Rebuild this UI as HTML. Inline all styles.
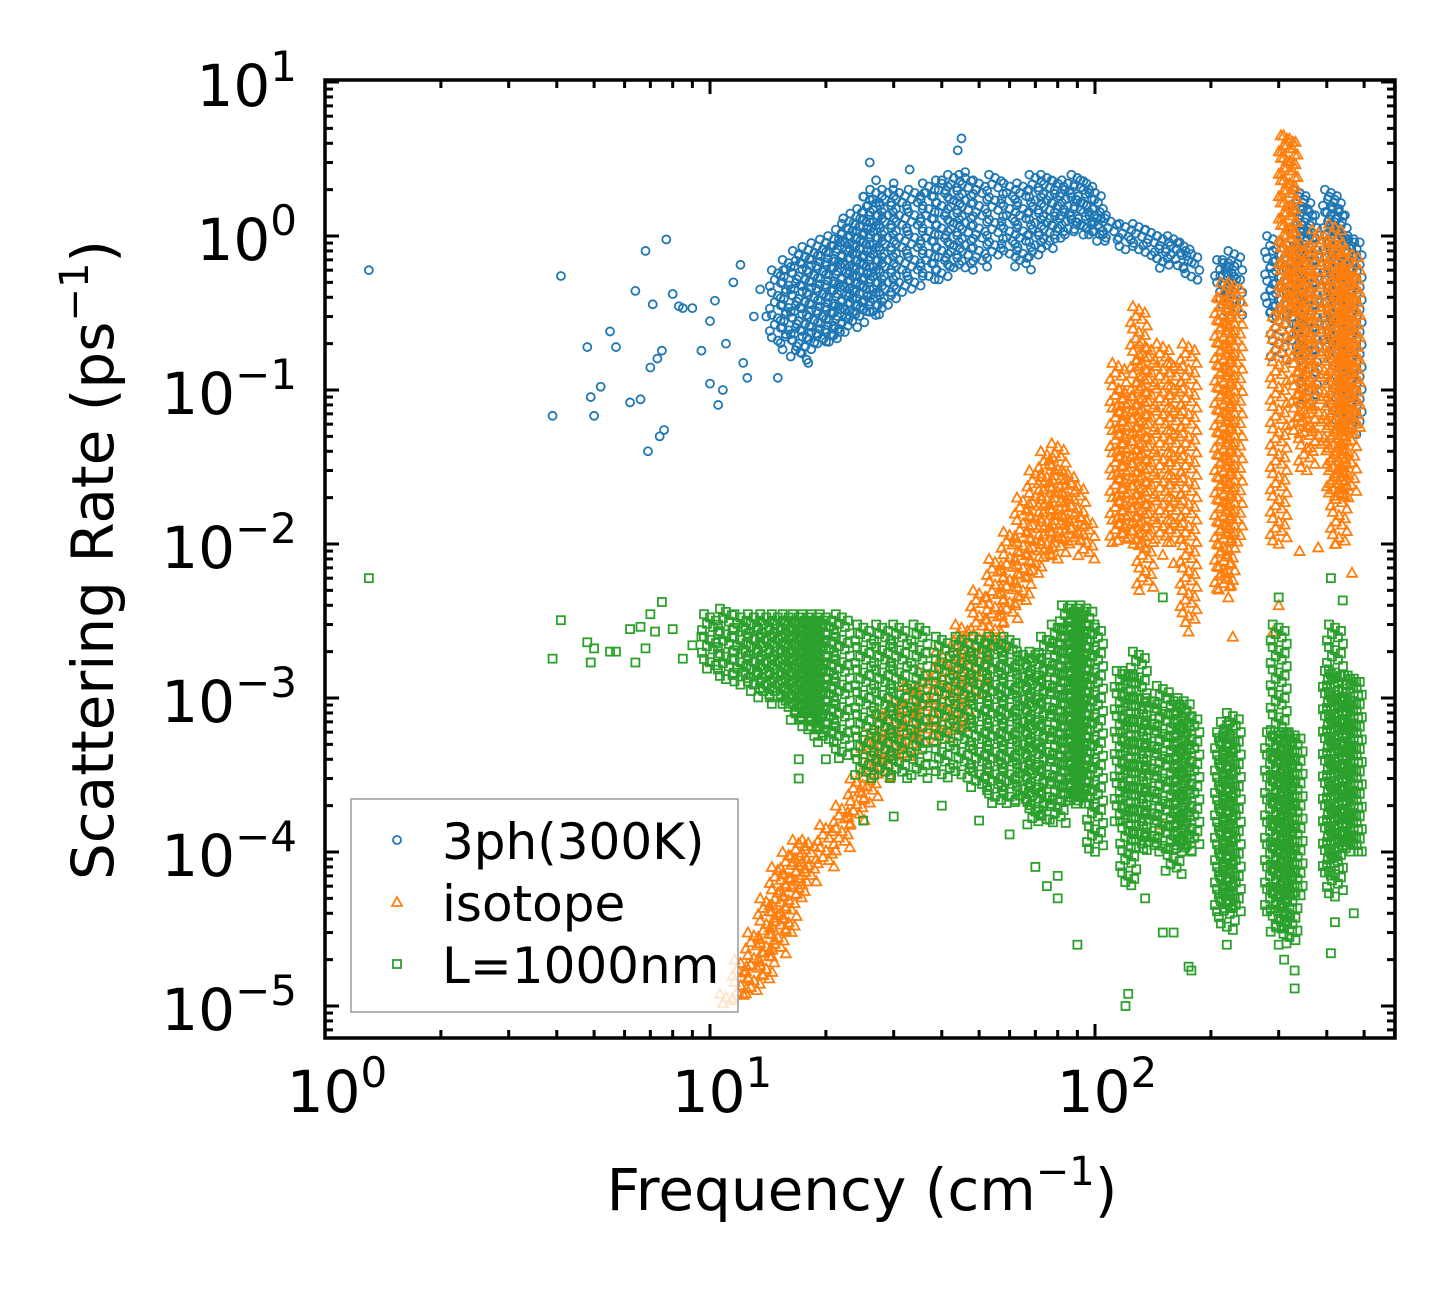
<!DOCTYPE html>
<html><head><meta charset="utf-8"><style>
html,body{margin:0;padding:0;background:#fff;}
svg text{font-family:"DejaVu Sans","Liberation Sans",sans-serif;fill:#000;}
</style></head><body>
<svg id="chart" width="1455" height="1287" viewBox="0 0 1455 1287" xmlns="http://www.w3.org/2000/svg">
<rect x="0" y="0" width="1455" height="1287" fill="#fff"/>
<g id="marks"></g>
<g id="axes"></g>
</svg>
<script>
// ---- data ----
const xTicks = [1, 10, 100];
const yTicks = [1, 0, -1, -2, -3, -4, -5];
const blueScatter = [[1.3,0.6],[3.9,0.068],[4.1,0.55],[4.8,0.19],[4.9,0.09],[5.0,0.068],[5.2,0.105],[5.5,0.24],[5.7,0.19],[6.2,0.083],[6.4,0.44],[6.6,0.087],[6.8,0.8],[6.9,0.04],[7.0,0.14],[7.1,0.36],[7.3,0.16],[7.4,0.05],[7.6,0.055],[7.5,0.18],[7.7,0.95],[8.0,0.42],[8.3,0.35],[8.5,0.34],[9.0,0.34],[9.5,0.18],[10,0.11],[10,0.28],[10.3,0.38],[10.5,0.08],[10.8,0.1],[11,0.2],[11.5,0.5],[12,0.65],[12.2,0.15],[12.5,0.12],[13,0.3],[13.5,0.45],[14,0.3],[15,0.12],[15.5,0.6],[17,0.75],[18,0.15],[19,0.2],[20,0.9],[22,1.2],[25,1.8],[26,3.0],[27,2.3],[30,2.2],[33,2.7],[36,1.9],[40,2.3],[44,3.6],[45,4.3],[46,2.6],[49,2.0]];
const blueBands = [[15,0.2,0.6],[16,0.18,0.7],[17,0.15,0.8],[18,0.17,0.85],[19,0.2,0.9],[20,0.2,0.95],[21,0.2,1.0],[22,0.22,1.1],[23,0.25,1.3],[24,0.27,1.4],[25,0.3,1.5],[26,0.3,1.8],[27,0.3,2.0],[29,0.35,2.0],[31,0.4,2.0],[34,0.45,2.0],[37,0.5,2.2],[40,0.5,2.3],[43,0.6,2.5],[46,0.6,2.5],[50,0.6,2.3],[55,0.7,2.5],[60,0.7,2.2],[65,0.6,2.2],[70,0.7,2.5],[75,0.8,2.5],[80,0.9,2.3],[85,1.0,2.3],[90,1.1,2.5],[95,1.0,2.3],[100,1.0,2.0],[103,0.9,1.5],[110,0.9,1.3],[120,0.8,1.2],[130,0.8,1.2],[140,0.7,1.1],[150,0.6,1.0],[160,0.7,1.0],[170,0.6,0.9],[178,0.5,0.8],[215,0.4,0.7],[222,0.35,0.7],[230,0.3,0.8],[290,0.3,1.0],[300,0.15,0.8],[330,0.3,1.1],[340,0.2,2.0],[350,0.15,1.8],[360,0.08,1.5],[410,0.2,2.0],[420,0.15,1.8],[430,0.06,1.5],[455,0.05,1.0],[470,0.06,1.0]];
const orangeScatter = [[135,0.0095],[150,0.0085],[160,0.0075],[175,0.0027],[218,0.0065],[222,0.0045],[228,0.0025],[300,0.004],[340,0.009],[380,0.0095],[420,0.01],[465,0.0065],[290,0.0027],[150,0.00015]];
const orangeBands = [[11,1e-5,1.2e-5],[12,1.1e-5,2e-5],[13,1.2e-5,3e-5],[14,1.5e-5,5e-5],[15,2e-5,8e-5],[16,3e-5,1e-4],[17,5e-5,1.2e-4],[18,6e-5,1.2e-4],[20,8e-5,1.5e-4],[22,1e-4,2e-4],[24,1.5e-4,3e-4],[26,2e-4,6e-4],[28,3e-4,8e-4],[30,4e-4,1e-3],[33,4e-4,1.2e-3],[36,5e-4,1.5e-3],[40,5e-4,2e-3],[45,6e-4,3e-3],[50,1e-3,5e-3],[55,2e-3,8e-3],[60,3e-3,1.2e-2],[65,4e-3,2e-2],[70,6e-3,3e-2],[75,8e-3,4e-2],[80,8e-3,4.5e-2],[85,1e-2,3e-2],[90,1e-2,2.5e-2],[95,8e-3,1.5e-2],[115,1e-2,0.15],[120,1e-2,0.1],[130,1e-2,0.35],[135,5e-3,0.2],[150,1e-2,0.2],[160,1e-2,0.15],[175,3e-3,0.2],[215,5e-3,0.4],[220,5e-3,0.5],[230,1e-2,0.5],[300,0.01,0.3],[315,0.3,4.5],[320,0.3,4.5],[340,0.05,0.8],[355,0.03,0.9],[380,0.04,1.1],[420,0.02,1.2],[430,0.01,0.9],[455,0.02,0.6],[465,0.05,0.8]];
const greenScatter = [[1.3,0.006],[3.9,0.0018],[4.1,0.0032],[4.8,0.0023],[4.9,0.0017],[5.0,0.0021],[5.5,0.002],[5.7,0.002],[6.2,0.0028],[6.4,0.0017],[6.6,0.0029],[6.8,0.0021],[7.0,0.0035],[7.2,0.0027],[7.5,0.0042],[8.0,0.0028],[8.5,0.0018],[9.0,0.0022],[9.5,0.0025],[17,0.0003],[17,0.0004],[20,0.0004],[25,0.00016],[30,0.00017],[40,0.0002],[50,0.00016],[60,0.00013],[70,0.00008],[75,0.00006],[80,0.00005],[90,0.000025],[80,0.00007],[120,0.00001],[122,0.000012],[135,0.00005],[150,0.00003],[160,0.00003],[175,0.000018],[178,0.000017],[150,0.0045],[220,0.000025],[225,0.0002],[300,0.000025],[310,0.00002],[330,0.000013],[330,0.000017],[410,0.000022],[420,0.000035],[470,0.00004],[300,0.0045],[410,0.006],[440,0.0043]];
const greenBands = [[10,1.5e-3,3.5e-3],[11,1.3e-3,3.8e-3],[12,1.2e-3,3.5e-3],[13,1.1e-3,3.5e-3],[14,1e-3,3.5e-3],[15,9e-4,3.5e-3],[16,8e-4,3.5e-3],[17,7e-4,3.5e-3],[18,6e-4,3.5e-3],[19,5.5e-4,3.5e-3],[20,5e-4,3.5e-3],[22,4e-4,3.5e-3],[25,3e-4,3e-3],[28,3e-4,3e-3],[31,3e-4,3e-3],[35,3e-4,3e-3],[40,3e-4,2.5e-3],[45,3e-4,2.5e-3],[50,2.5e-4,2.5e-3],[55,2e-4,2.5e-3],[60,2e-4,2.5e-3],[65,2e-4,2e-3],[70,1.5e-4,2e-3],[75,1.5e-4,2.5e-3],[80,1.5e-4,3e-3],[85,2e-4,4e-3],[90,2e-4,4e-3],[95,2e-4,4e-3],[100,1e-4,3e-3],[118,1.5e-4,1.5e-3],[122,6e-5,1.5e-3],[130,1e-4,2e-3],[140,1e-4,1e-3],[150,1e-4,1.2e-3],[160,7e-5,1e-3],[170,1e-4,1e-3],[178,1e-4,8e-4],[215,4e-5,6e-4],[220,3e-5,7e-4],[228,4e-5,8e-4],[290,4e-5,6e-4],[300,3e-5,3e-3],[310,3e-5,6e-4],[320,2.5e-5,6e-4],[330,5e-5,6e-4],[410,7e-5,1.5e-3],[420,5e-5,3e-3],[440,1e-4,1e-3],[460,1e-4,1.4e-3],[470,1e-4,1.4e-3]];

// ---- axes ----
const X0=325, X1=1395, Y0=80, Y1=1038;
const xs = v => X0 + Math.log10(v)*385;
const ys = v => 236 - Math.log10(v)*154;
const NS="http://www.w3.org/2000/svg";
const marks=document.getElementById('marks'), axes=document.getElementById('axes');
function el(t,a,p){const e=document.createElementNS(NS,t);for(const k in a)e.setAttribute(k,a[k]);(p||marks).appendChild(e);return e;}

function marker(kind,px,py,color,parent){
  let e;
  if(kind==='circle') e=el('circle',{cx:px,cy:py,r:4,fill:'none',stroke:color,'stroke-width':1.8},parent);
  else if(kind==='tri') e=el('polygon',{points:`${px},${py-5} ${px-5},${py+4} ${px+5},${py+4}`,fill:'none',stroke:color,'stroke-width':1.8},parent);
  else e=el('rect',{x:px-4,y:py-4,width:8,height:8,fill:'none',stroke:color,'stroke-width':1.8},parent);
  return e;
}
function drawSeries(name,kind,color,scatter,bands){
  const g=el('g',{});
  
  
  const offs=[-6,0,6,-3,3,-8,8];
  bands.forEach(b=>{
    const px=xs(b[0]), lo=ys(b[1]), hi=ys(b[2]);
    let i=0;
    for(let py=hi; py<=lo; py+=3.2,i++){
      const m=marker(kind,px+offs[i%7],py,color,g);
      
      
    }
  });
  scatter.forEach(p=>{
    const m=marker(kind,xs(p[0]),ys(p[1]),color,g);
    
    
  });
}
const clip=el('clipPath',{id:'pc'});el('rect',{x:X0,y:Y0,width:X1-X0,height:Y1-Y0},clip);
marks.setAttribute('clip-path','url(#pc)');
drawSeries('3ph','circle','#1f77b4',blueScatter,blueBands);
drawSeries('isotope','tri','#ff7f0e',orangeScatter,orangeBands);
drawSeries('l1000nm','rect','#2ca02c',greenScatter,greenBands);

// frame
const fr=el('rect',{x:X0,y:Y0,width:X1-X0,height:Y1-Y0,fill:'none',stroke:'#000','stroke-width':3.5},axes);


// x ticks
for(let d=0; d<3; d++){
  for(let k=1;k<10;k++){
    const v=Math.pow(10,d)*k, px=xs(v); if(px>X1) break;
    const L = k===1?14:8;
    el('line',{x1:px,y1:Y1,x2:px,y2:Y1-L,stroke:'#000','stroke-width':3},axes);
    el('line',{x1:px,y1:Y0,x2:px,y2:Y0+L,stroke:'#000','stroke-width':3},axes);
  }
}
xTicks.forEach((v,i)=>{
  const t=el('text',{x:xs(v)+12,y:1112,'font-size':58,'text-anchor':'middle'},axes);
  
  
  t.innerHTML='10<tspan dy="-25" font-size="42">'+i+'</tspan>';
});
// y ticks
for(let d=-6; d<1; d++){
  for(let k=1;k<10;k++){
    const v=Math.pow(10,d)*k, py=ys(v); if(py<Y0-1||py>Y1) continue;
    const L = k===1?14:8;
    el('line',{x1:X0,y1:py,x2:X0+L,y2:py,stroke:'#000','stroke-width':3},axes);
    el('line',{x1:X1,y1:py,x2:X1-L,y2:py,stroke:'#000','stroke-width':3},axes);
  }
}
el('line',{x1:X0,y1:ys(10),x2:X0+14,y2:ys(10),stroke:'#000','stroke-width':3},axes);
el('line',{x1:X1,y1:ys(10),x2:X1-14,y2:ys(10),stroke:'#000','stroke-width':3},axes);
yTicks.forEach(e=>{
  const t=el('text',{x:297,y:ys(Math.pow(10,e))+24,'font-size':58,'text-anchor':'end'},axes);
  
  
  const ex = e<0 ? '\u2212'+(-e) : ''+e;
  t.innerHTML='10<tspan dy="-25" font-size="42">'+ex+'</tspan>';
});
// titles
const xt=el('text',{x:862,y:1210,'font-size':58,'text-anchor':'middle'},axes);


xt.innerHTML='Frequency (cm<tspan dy="-25" font-size="40">\u22121</tspan><tspan dy="25">)</tspan>';
const yt=el('text',{x:0,y:0,'font-size':58,'text-anchor':'middle',transform:'translate(113,560) rotate(-90)'},axes);


yt.innerHTML='Scattering Rate (ps<tspan dy="-25" font-size="40">\u22121</tspan><tspan dy="25">)</tspan>';
// legend
const lg=el('g',{},axes);


el('rect',{x:351,y:799,width:387,height:213,fill:'#fff','fill-opacity':0.8,stroke:'#999','stroke-width':1.5},lg);
const entries=[['3ph(300K)','circle','#1f77b4'],['isotope','tri','#ff7f0e'],['L=1000nm','rect','#2ca02c']];
entries.forEach((en,i)=>{
  const y=840+i*62;
  const g=el('g',{},lg);
  
  
  marker(en[1],397,y,en[2],g);
  const t=el('text',{x:442,y:y+19,'font-size':50},g);
  t.textContent=en[0];
});
</script>
</body></html>
